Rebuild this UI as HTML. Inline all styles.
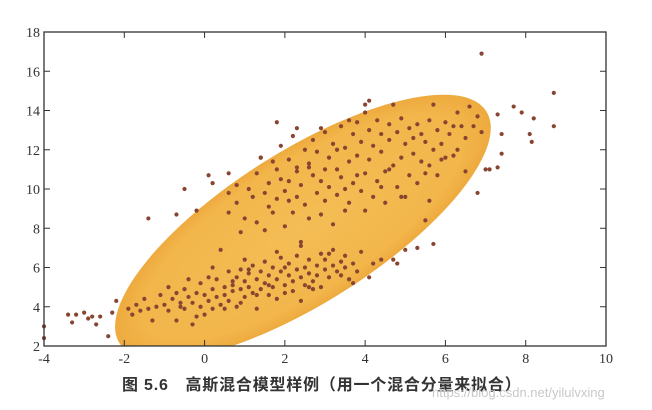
<!DOCTYPE html>
<html><head><meta charset="utf-8"><style>
html,body{margin:0;padding:0;background:#fff;width:652px;height:410px;overflow:hidden}
svg{display:block}
</style></head><body>
<svg id="chart" width="652" height="410">
<defs>
<radialGradient id="eg" cx="50%" cy="50%" r="50%">
<stop offset="0" stop-color="#f4bd55"/><stop offset="0.85" stop-color="#f2b64b"/><stop offset="1" stop-color="#eeaa3e"/>
</radialGradient>
<clipPath id="pc"><rect x="44" y="32" width="562" height="314"/></clipPath>
</defs>
<g id="ell" clip-path="url(#pc)"></g>
<g id="pts"></g>
<g id="axes"></g>
<text x="122" y="390" font-family="'Liberation Sans','Noto Sans CJK SC',sans-serif" font-size="16" font-weight="bold" letter-spacing="0.8" fill="#333">图 5.6　高斯混合模型样例（用一个混合分量来拟合）</text>
<text x="432" y="397" font-family="'Liberation Sans',sans-serif" font-size="13" fill="#c8c8c8">https://blog.csdn.net/yilulvxing</text>
</svg>
<script>
const xTicks=[-4,-2,0,2,4,6,8,10];
const yTicks=[2,4,6,8,10,12,14,16,18];
const ellipseCenter=[2.45,8.05];
const lowerX=[-1.9,-1.8,-1.7,-1.6,-1.5,-1.4,-1.3,-1.2,-1.1,-1.0,-0.9,-0.9,-0.8,-0.7,-0.7,-0.6,-0.5,-0.5,-0.4,-0.4,-0.3,-0.3,-0.2,-0.1,-0.1,0.0,0.0,0.1,0.1,0.2,0.2,0.3,0.3,0.4,0.4,0.5,0.5,0.6,0.6,0.7,0.7,0.8,0.8,0.9,0.9,1.0,1.0,1.1,1.1,1.2,1.2,1.3,1.3,1.4,1.4,1.5,1.5,1.6,1.6,1.7,1.7,1.8,1.8,1.9,1.9,2.0,2.0,2.1,2.1,2.2,2.2,2.3,2.3,2.4,2.4,2.5,2.5,2.6,2.6,2.7,2.8,2.8,2.9,2.9,3.0,3.0,3.1,3.2,3.2,3.3,3.4,3.4,3.5,3.5,3.6,3.7,3.8,3.9,1.0,0.9,1.6,1.3,2.7,0.5,-0.2,1.8,2.4,0.2,-0.6,1.1,2.0,2.6,3.1,0.7];
const lowerY=[3.9,3.6,4.1,3.8,4.4,3.9,3.3,4.0,4.6,4.1,5.0,3.8,4.4,4.7,3.3,4.2,4.9,3.9,4.5,5.4,4.2,3.1,4.7,5.2,4.0,4.6,3.6,5.5,4.3,4.9,3.9,5.4,4.5,4.1,6.9,5.0,4.6,5.8,4.3,5.1,4.8,5.5,4.0,5.9,4.9,5.3,4.5,5.7,5.0,6.1,4.7,5.4,3.9,5.8,4.9,5.2,6.3,4.6,5.6,5.0,6.0,5.4,4.4,5.8,6.5,5.1,4.7,5.6,6.2,5.3,4.8,5.9,6.6,5.5,4.3,6.0,5.1,5.7,6.4,5.3,6.1,5.6,6.7,5.0,5.9,6.4,5.5,6.9,6.1,5.8,6.3,5.6,6.0,6.6,5.4,6.2,5.8,6.8,6.4,4.2,5.1,4.6,4.9,3.9,3.5,6.8,7.1,6.0,4.0,5.9,6.0,5.0,6.7,5.3];
const upperX=[0.6,0.6,0.8,0.8,0.9,1.0,1.1,1.2,1.3,1.3,1.4,1.5,1.6,1.6,1.7,1.8,1.8,1.9,1.9,2.0,2.0,2.1,2.1,2.2,2.2,2.3,2.3,2.4,2.4,2.5,2.5,2.6,2.6,2.7,2.7,2.8,2.8,2.9,2.9,3.0,3.0,3.1,3.1,3.2,3.2,3.3,3.3,3.4,3.4,3.5,3.5,3.6,3.6,3.7,3.7,3.8,3.8,3.9,3.9,4.0,4.0,4.1,4.1,4.2,4.2,4.3,4.3,4.4,4.4,4.5,4.5,4.6,4.6,4.7,4.7,4.8,4.8,4.9,4.9,5.0,5.0,5.1,5.1,5.2,5.2,5.3,5.3,5.4,5.5,5.5,5.6,5.6,5.7,5.7,5.8,5.8,5.9,6.0,6.0,6.1,6.2,6.3,6.4,6.5,6.6,6.7,6.8,6.9,6.5,6.2,3.3,2.6,3.8,4.4,2.1,3.0,1.5,4.9,5.4,4.0,3.6,2.9,2.3,1.7,4.6,5.9,6.3,3.5];
const upperY=[9.8,8.8,10.2,9.3,7.8,8.5,10.0,9.6,8.3,10.8,11.6,7.9,10.3,9.1,8.8,11.0,9.5,12.2,10.5,8.1,9.9,11.5,10.4,8.8,12.7,9.6,11.1,10.2,7.3,12.0,9.2,11.3,8.5,10.7,12.5,9.8,11.9,8.7,10.4,12.9,9.4,11.6,10.1,8.2,12.3,11.0,9.7,13.2,10.6,12.1,8.9,11.4,9.3,12.8,10.3,13.4,11.7,9.9,12.4,10.8,8.9,13.0,11.5,12.2,9.6,13.5,10.4,11.9,12.8,10.9,9.3,12.5,13.3,11.2,14.3,10.1,12.9,11.6,13.6,9.6,12.3,10.7,13.1,11.8,12.6,10.3,13.3,11.4,12.4,10.8,13.5,11.2,12.0,14.3,10.7,13.0,12.3,11.6,13.4,12.8,11.7,13.9,13.2,12.6,14.2,13.2,13.7,12.9,10.9,13.2,12.0,11.1,10.7,10.1,9.4,11.0,9.8,9.6,12.8,13.9,13.5,13.1,10.9,11.4,11.0,11.5,12.0,10.0];
const outlierX=[-4,-4,-3.4,-3.3,-3.2,-3,-2.9,-2.8,-2.7,-2.6,-2.4,-2.3,-2.2,-1.4,-0.7,-0.5,-0.2,0.1,0.2,0.6,1.8,2.3,1.4,4.0,4.1,6.9,7.0,7.1,7.3,7.4,7.4,7.3,7.7,7.9,8.1,8.2,8.15,8.7,8.7,6.8,5.7,5.3,5.0,4.8,4.7,4.1,3.7,5.6,5.5,4.2,4.4];
const outlierY=[3,2.4,3.6,3.2,3.6,3.7,3.4,3.5,3.1,3.5,2.5,3.7,4.3,8.5,8.7,10,8.9,10.7,10.3,10.8,13.4,13.1,11.6,14.3,14.5,16.9,11,11,11.1,11.8,12.8,13.8,14.2,13.9,12.8,13.6,12.4,14.9,13.2,9.8,7.2,7,6.9,6.2,6.4,5.5,5.2,9.4,8.4,6.2,6.4];

const L=44,R=606,T=32,B=346,xmin=-4,xmax=10,ymin=2,ymax=18;
const sx=v=>L+(v-xmin)/(xmax-xmin)*(R-L);
const sy=v=>B-(v-ymin)/(ymax-ymin)*(B-T);
const NS='http://www.w3.org/2000/svg';
function mk(tag,attrs,parent){const e=document.createElementNS(NS,tag);for(const k in attrs)e.setAttribute(k,attrs[k]);parent.appendChild(e);return e;}

const eg=document.getElementById('ell');
const ecx=sx(ellipseCenter[0]),ecy=sy(ellipseCenter[1]);
const el=mk('ellipse',{cx:ecx,cy:ecy,rx:217,ry:76,fill:'url(#eg)',transform:`rotate(-32.3 ${ecx} ${ecy})`},eg);



const pg=document.getElementById('pts');
function drawPts(xs,ys,name){for(let i=0;i<xs.length;i++){const c=mk('circle',{cx:sx(xs[i]),cy:sy(ys[i]),r:2.1,fill:'#874532'},pg);

}}
drawPts(lowerX,lowerY,'lower-cluster-point');
drawPts(upperX,upperY,'upper-cluster-point');
drawPts(outlierX,outlierY,'outlier-point');

const ax=document.getElementById('axes');
const frame=mk('rect',{x:L,y:T,width:R-L,height:B-T,fill:'none',stroke:'#333','stroke-width':1.3},ax);


const F="'Liberation Serif',serif";
xTicks.forEach(v=>{const x=sx(v);
mk('line',{x1:x,x2:x,y1:B,y2:B-6,stroke:'#333'},ax);mk('line',{x1:x,x2:x,y1:T,y2:T+6,stroke:'#333'},ax);
const t=mk('text',{x:x,y:B+17,'text-anchor':'middle','font-family':F,'font-size':14,fill:'#333'},ax);t.textContent=v<0?'-'+(-v):v;

});
yTicks.forEach(v=>{const y=sy(v);
mk('line',{x1:L,x2:L+6,y1:y,y2:y,stroke:'#333'},ax);mk('line',{x1:R,x2:R-6,y1:y,y2:y,stroke:'#333'},ax);
const t=mk('text',{x:L-4,y:y+5,'text-anchor':'end','font-family':F,'font-size':14,fill:'#333'},ax);t.textContent=v;

});
</script>
</body></html>
